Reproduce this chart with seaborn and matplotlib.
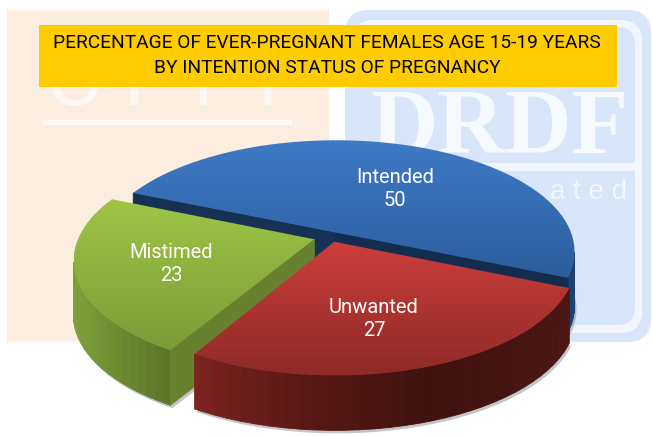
import numpy as np
import matplotlib
matplotlib.use("Agg")
import matplotlib.pyplot as plt
import matplotlib.patheffects as pe
from matplotlib.collections import PolyCollection
from matplotlib.patches import FancyBboxPatch, Polygon, Rectangle
from matplotlib.transforms import Affine2D
import seaborn as sns

categories = ["Intended", "Mistimed", "Unwanted"]
values = [50, 23, 27]
title_lines = ["PERCENTAGE OF EVER-PREGNANT FEMALES AGE 15-19 YEARS",
               "BY INTENTION STATUS OF PREGNANCY"]

explode = [0, 0.11, 0.07]
nudge = [(-2, 0), (1, 3), (-9, 2)]
label_pos = [(395, 189), (171, 264), (374, 319)]
top_colors = [["#3f7ac6", "#2b5d9c"], ["#9fc545", "#7a9b38"], ["#cd3e3a", "#8f2a27"]]
wall_colors = [["#1a3a63", "#142c4c", "#142c4c", "#1d4373"],
               ["#80a03b", "#566e26", "#7a9637", "#7a9637"],
               ["#7c2420", "#5a1815", "#3f1210", "#4c1613"]]
wall_stops = [[100, 300, 450, 580], [72, 181, 315, 330], [195, 300, 430, 575]]

# plane of the pie -> pixels, with some perspective
CX, CY, RX, RY, K = 338, 232.5, 235, 108, 0.171
DEPTH = 55
FONT = "Roboto"


def project(pts):
    d = 1 + K * pts[:, 1]
    return np.column_stack([CX + RX * pts[:, 0] / d, CY - RY * pts[:, 1] / d])


def draw_background(ax):
    ax.add_patch(Rectangle((7, 10), 322, 332, fc="#fbeee0", ec="none", zorder=1))
    ax.add_patch(Rectangle((43, 120), 249, 5, fc="#fefaf6", ec="none", zorder=2))
    for letter, x in zip("UPPI", [75, 150, 219, 268]):
        ax.text(x, 105, letter, fontsize=58, family="Liberation Sans", color="#fdf8f4",
                ha="center", va="baseline", zorder=2)
    ax.text(155, 290, "50", fontsize=145, family="Liberation Serif", style="italic",
            weight="bold", color="#fbeee0", ha="center", va="baseline", zorder=2,
            path_effects=[pe.withStroke(linewidth=2.5, foreground="#f8f0dc")])

    ax.add_patch(FancyBboxPatch((345, 10), 306, 332, boxstyle="round,pad=0,rounding_size=24",
                                fc="#d9e5f8", ec="none", zorder=1))
    ax.add_patch(FancyBboxPatch((352, 20), 290, 313, boxstyle="round,pad=0,rounding_size=22",
                                fc="#f3f7fd", ec="none", zorder=1))
    ax.add_patch(FancyBboxPatch((347, 27), 288, 298, boxstyle="round,pad=0,rounding_size=18",
                                fc="#d9e5f8", ec="none", zorder=2))
    ax.add_patch(Rectangle((345, 163), 290, 8, fc="#f3f7fd", ec="none", zorder=2))
    ax.text(500, 153, "DRDF", fontsize=67, family="Liberation Serif", weight="bold", color="#f6f9fe",
            ha="center", va="baseline", zorder=3)
    ax.text(588, 199, "a t e d", fontsize=20, family="Liberation Sans", color="#f3f7fd",
            ha="center", va="baseline", zorder=3)


def draw_slice(ax, wedge, idx):
    z = 10 + idx * 5
    # flatten the wedge outline at a high resolution and put it into perspective
    path = wedge.get_path().transformed(Affine2D().scale(400))
    outline = project(path.to_polygons(closed_only=True)[0] / 400) + nudge[idx]
    wedge.set_visible(False)

    ax.add_patch(Polygon(outline + [2, DEPTH + 3], fc="#808080", ec="none", alpha=0.45, zorder=z))

    lo, hi = wall_stops[idx][0], wall_stops[idx][-1]
    cmap_pos = (np.array(wall_stops[idx]) - lo) / (hi - lo)
    cmap = matplotlib.colors.LinearSegmentedColormap.from_list(
        "wall", list(zip(cmap_pos, wall_colors[idx])))
    quads, cols = [], []
    for a, b in zip(outline[:-1], outline[1:]):
        # only edges that run left to right face the viewer
        if b[0] <= a[0]:
            continue
        quads.append([a, b, b + [0, DEPTH], a + [0, DEPTH]])
        cols.append(cmap(np.clip(((a[0] + b[0]) / 2 - lo) / (hi - lo), 0, 1)))
    ax.add_collection(PolyCollection(quads, facecolors=cols, edgecolors=cols, linewidths=0.6, zorder=z + 1))

    ymin, ymax = outline[:, 1].min(), outline[:, 1].max()
    grad = np.linspace(0, 1, 256).reshape(-1, 1)
    im = ax.imshow(grad, cmap=sns.blend_palette(top_colors[idx], as_cmap=True), aspect="auto",
                   extent=(outline[:, 0].min(), outline[:, 0].max(), ymax, ymin), zorder=z + 2)
    clip = Polygon(outline, transform=ax.transData, fc="none", ec="none")
    ax.add_patch(clip)
    im.set_clip_path(clip)


def main():
    sns.set_theme(style="white")
    fig, ax = plt.subplots(figsize=(6.53, 4.36), dpi=100)
    fig.subplots_adjust(0, 0, 1, 1)

    wedges, _ = ax.pie(values, explode=explode, startangle=-23, radius=1, frame=True)

    draw_background(ax)
    for i, wedge in enumerate(wedges):
        draw_slice(ax, wedge, i)

    ax.set_aspect("auto")
    ax.set_xlim(0, 653)
    ax.set_ylim(436, 0)
    ax.axis("off")

    for name, val, (x, y) in zip(categories, values, label_pos):
        ax.text(x, y, f"{name}\n{val}", color="white", fontsize=14.5, family=FONT,
                ha="center", va="center", linespacing=1.25, zorder=40)

    ax.add_patch(Rectangle((39, 25), 578, 62, fc="#ffcc00", ec="none", zorder=30))
    ax.text(327, 43, title_lines[0], fontsize=13.8, family=FONT, color="black",
            ha="center", va="center", zorder=31)
    ax.text(327, 68, title_lines[1], fontsize=13.8, family=FONT, color="black",
            ha="center", va="center", zorder=31)

    fig.savefig("out.png", dpi=100)
    plt.close(fig)


if __name__ == '__main__':
    main()
